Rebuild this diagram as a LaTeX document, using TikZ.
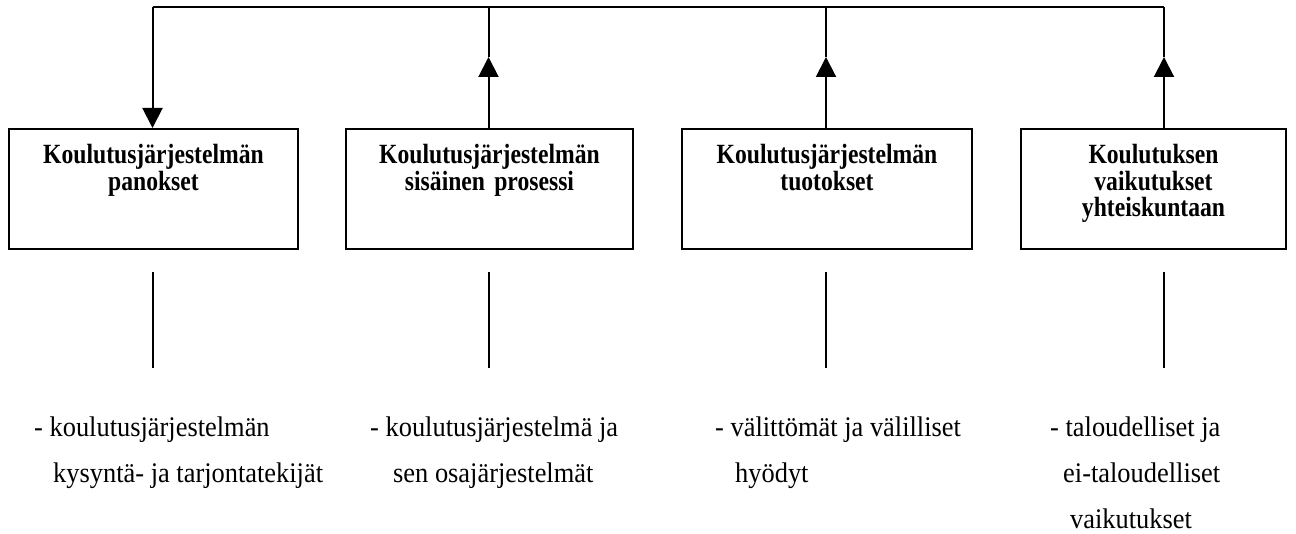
\documentclass[tikz,border=0pt]{standalone}
\usepackage{fontspec}
\setmainfont{Liberation Serif}
\newfontfamily\boxfont[FakeStretch=0.85]{Liberation Serif}
\newfontfamily\lowfont[FakeStretch=0.93]{Liberation Serif}
\usetikzlibrary{arrows.meta}
\tikzset{
  boxnode/.style={draw, line width=2pt, inner sep=0pt, align=center,
    text height=35pt, text depth=85pt,
    font=\boxfont\fontsize{27.8}{26.5}\selectfont\bfseries, anchor=north west},
  lowtext/.style={inner sep=0pt, anchor=base west, font=\lowfont\fontsize{28.4}{30}\selectfont},
  conn/.style={line width=2pt},
  arr/.style={line width=2pt, -{Triangle[width=20pt,length=20pt]}}
}
\begin{document}
\begin{tikzpicture}[x=1pt,y=-1pt]
\useasboundingbox (0,0) rectangle (1296,534);
% boxes
\node[boxnode, text width=289pt] (b1) at (8,128) {Koulutusjärjestelmän\\panokset};
\node[boxnode, text width=287pt] (b2) at (345,128) {Koulutusjärjestelmän\\sisäinen prosessi};
\node[boxnode, text width=290pt] (b3) at (681,128) {Koulutusjärjestelmän\\tuotokset};
\node[boxnode, text width=265pt] (b4) at (1020,128) {Koulutuksen\\vaikutukset\\yhteiskuntaan};
% top connector
\coordinate (top1) at (152.5,7);
\coordinate (top2) at (488.5,7);
\coordinate (top3) at (826,7);
\coordinate (top4) at (1164,7);
\coordinate (m2) at (488.5,57);
\coordinate (m3) at (826,57);
\coordinate (m4) at (1164,57);
\draw[conn] (top1) -- (top4);
\draw[arr] (top1) -- (b1.north -| top1);
\draw[arr] (b2.north -| top2) -- (m2);
\draw[conn] (m2) -- (top2);
\draw[arr] (b3.north -| top3) -- (m3);
\draw[conn] (m3) -- (top3);
\draw[arr] (b4.north -| top4) -- (m4);
\draw[conn] (m4) -- (top4);
% lower lines
\foreach \i/\x in {1/152.5,2/488.5,3/826,4/1164}{
  \coordinate (la\i) at (\x,272);
  \coordinate (lb\i) at (\x,368);
  \draw[conn] (la\i) -- (lb\i);
}
% lower texts
\node[lowtext] (t1a) at (34,436) {- koulutusjärjestelmän};
\node[lowtext] (t1b) at (53,482) {kysyntä- ja tarjontatekijät};
\node[lowtext] (t2a) at (370,436) {- koulutusjärjestelmä ja};
\node[lowtext] (t2b) at (393,482) {sen osajärjestelmät};
\node[lowtext] (t3a) at (715,436) {- välittömät ja välilliset};
\node[lowtext] (t3b) at (735,482) {hyödyt};
\node[lowtext] (t4a) at (1050,436) {- taloudelliset ja};
\node[lowtext] (t4b) at (1063,482) {ei-taloudelliset};
\node[lowtext] (t4c) at (1070,528) {vaikutukset};
\end{tikzpicture}
\end{document}
